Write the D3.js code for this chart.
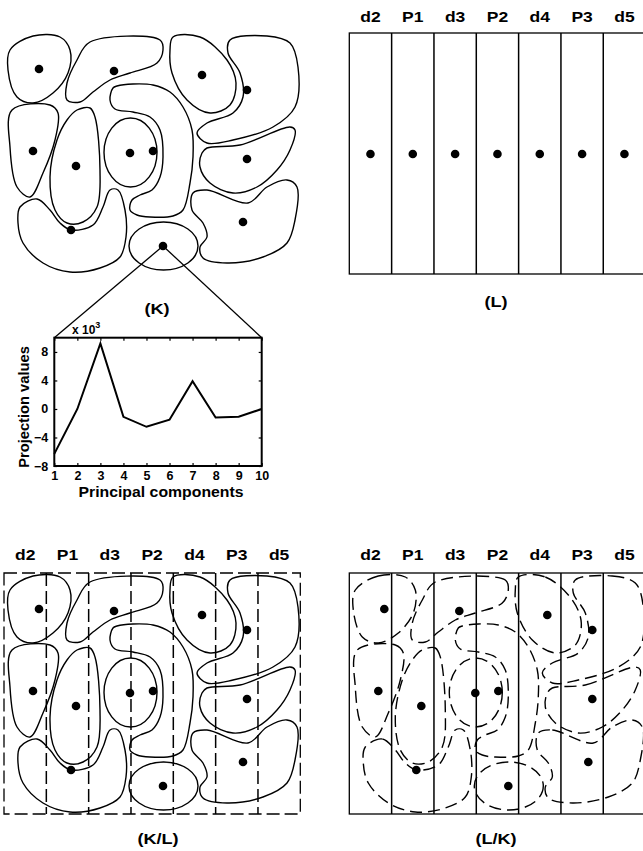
<!DOCTYPE html>
<html>
<head>
<meta charset="utf-8">
<script src="https://cdn.jsdelivr.net/npm/d3@7"></script>
<style>
  body { margin: 0; background: #fff; }
  text { font-family: "Liberation Sans", Arial, sans-serif; font-weight: bold; fill: #000; }
</style>
</head>
<body>
<script>
// column labels of the lattice
const columns = ["d2", "P1", "d3", "P2", "d4", "P3", "d5"];

// projection of one region onto the principal components
const components = [1, 2, 3, 4, 5, 6, 7, 8, 9, 10];
const projection = [-6.3, 0, 9.2, -1.1, -2.5, -1.5, 3.9, -1.2, -1.1, 0];
const yTicks = [-8, -4, 0, 4, 8];

// region outlines, in map units (map is 296 x 241)
const outlineA = [[6,17],[29,3],[56,4],[66,17],[64,40],[49,60],[29,70],[13,64],[4,37]];
const outlineB = [[86,9],[156,7],[159,17],[153,30],[126,40],[106,47],[89,59],[76,69],[63,67],[63,50],[73,27]];
const outlineC = [[169,4],[196,4],[223,27],[232,50],[226,72],[206,80],[183,67],[168,40],[166,17]];
const outlineD = [[226,7],[263,3],[286,10],[294,34],[291,74],[269,94],[229,107],[203,110],[193,100],[203,90],[229,80],[239,64],[236,40],[224,20]];
const outlineE = [[8,77],[46,72],[54,80],[51,107],[39,140],[26,164],[13,154],[6,114]];
const outlineF = [[73,77],[86,75],[91,84],[96,137],[93,174],[79,189],[63,190],[51,177],[46,144],[53,107],[63,87]];
const outlineH = [[109,55],[106,67],[111,76],[129,79],[146,84],[156,97],[159,124],[156,144],[148,157],[136,162],[128,167],[126,177],[133,182],[146,184],[169,183],[179,177],[186,150],[189,124],[188,97],[179,74],[166,59],[149,52],[129,51],[113,53]];
const outlineI = [[203,115],[236,112],[286,94],[291,97],[286,117],[273,137],[253,154],[229,160],[206,150],[196,134],[198,120]];
const outlineJ = [[189,160],[203,157],[244,170],[263,154],[283,147],[293,154],[291,187],[283,210],[259,224],[223,230],[199,225],[196,214],[203,204],[199,190],[188,177]];
const outlineK = [[16,174],[33,166],[46,177],[56,190],[67,197],[89,192],[99,174],[106,157],[114,157],[121,177],[122,204],[116,224],[96,235],[66,239],[39,230],[19,210],[14,190]];
const outlines = [outlineA, outlineB, outlineC, outlineD, outlineE, outlineF, outlineH, outlineI, outlineJ, outlineK];

// elliptical regions: centre x, centre y, radius x, radius y
const ellipses = [[126.5, 119.5, 26.5, 34.5], [159.5, 213, 34.5, 24]];

// region centres
const centres = [[35,36],[110,38],[198,42],[243,57],[29,118],[72,133],[126,120],[149,118],[243,126],[239,189],[67,197],[159,213]];

// lattice centres sit on one row
const latticeRow = 121;

const W = 643, H = 851;
const svg = d3.select("body").append("svg")
  .attr("width", W)
  .attr("height", H);

svg.append("rect").attr("width", W).attr("height", H).attr("fill", "#fff");

const mapW = 296, mapH = 241;

function mapScales(x0, y0) {
  return {
    x: d3.scaleLinear().domain([0, mapW]).range([x0, x0 + mapW]),
    y: d3.scaleLinear().domain([0, mapH]).range([y0, y0 + mapH])
  };
}

// bold text, a little wider than the font draws it
function label(g, x, y, str, size, sx, rotate) {
  return g.append("text")
    .attr("transform", `translate(${ x },${ y })${ rotate ? " rotate(-90)" : "" } scale(${ sx },1)`)
    .attr("text-anchor", "middle")
    .style("font-size", size + "px")
    .text(str);
}

function drawRegions(g, s, dash) {
  const line = d3.line()
    .x(d => s.x(d[0]))
    .y(d => s.y(d[1]))
    .curve(d3.curveCatmullRomClosed.alpha(0.5));

  g.selectAll("path.region")
    .data(outlines)
    .enter().append("path")
    .attr("class", "region")
    .attr("d", line)
    .attr("fill", "none")
    .attr("stroke", "#000")
    .attr("stroke-width", 1.4)
    .attr("stroke-dasharray", dash);

  g.selectAll("ellipse.region")
    .data(ellipses)
    .enter().append("ellipse")
    .attr("class", "region")
    .attr("cx", d => s.x(d[0]))
    .attr("cy", d => s.y(d[1]))
    .attr("rx", d => s.x(d[2]) - s.x(0))
    .attr("ry", d => s.y(d[3]) - s.y(0))
    .attr("fill", "none")
    .attr("stroke", "#000")
    .attr("stroke-width", 1.4)
    .attr("stroke-dasharray", dash);

  g.selectAll("circle.centre")
    .data(centres)
    .enter().append("circle")
    .attr("class", "centre")
    .attr("cx", d => s.x(d[0]))
    .attr("cy", d => s.y(d[1]))
    .attr("r", 4.3);
}

function drawLattice(g, x0, y0, labelY, dash) {
  const band = d3.scaleBand().domain(columns).range([x0, x0 + mapW + 0.3]);

  g.append("rect")
    .attr("x", x0)
    .attr("y", y0)
    .attr("width", band.step() * columns.length)
    .attr("height", mapH)
    .attr("fill", "none")
    .attr("stroke", "#000")
    .attr("stroke-width", 1.3)
    .attr("stroke-dasharray", dash);

  g.selectAll("line.col")
    .data(columns.slice(1))
    .enter().append("line")
    .attr("class", "col")
    .attr("x1", d => band(d))
    .attr("x2", d => band(d))
    .attr("y1", y0)
    .attr("y2", y0 + mapH)
    .attr("stroke", "#000")
    .attr("stroke-width", 1.5)
    .attr("stroke-dasharray", dash);

  columns.forEach(c => label(g, band(c) + band.bandwidth() / 2, labelY, c, 14, 1.25));

  return band;
}

// (K) regions
const kScale = mapScales(4, 33);
drawRegions(svg.append("g"), kScale, null);

// (L) lattice
const lBand = drawLattice(svg.append("g"), 349.3, 33, 22, null);
const lY = mapScales(349.3, 33).y;
svg.selectAll("circle.lattice")
  .data(columns)
  .enter().append("circle")
  .attr("class", "lattice")
  .attr("cx", d => lBand(d) + lBand.bandwidth() / 2)
  .attr("cy", lY(latticeRow))
  .attr("r", 4.3);

// (K/L): lattice dashed, regions solid
drawLattice(svg.append("g"), 4, 573, 560, "13,5");
drawRegions(svg.append("g"), mapScales(4, 573), null);

// (L/K): lattice solid, regions dashed
drawLattice(svg.append("g"), 349.3, 573, 560, null);
drawRegions(svg.append("g"), mapScales(349.3, 573), "12,6");

label(svg, 157, 314, "(K)", 14.5, 1.25);
label(svg, 496, 307, "(L)", 14.5, 1.25);
label(svg, 158, 844, "(K/L)", 14.5, 1.25);
label(svg, 496, 844, "(L/K)", 14.5, 1.25);

// inset plot of projection values for the bottom ellipse region
const plot = { left: 54.3, right: 261.7, top: 337.7, bottom: 466 };
const x = d3.scaleLinear().domain([1, 10]).range([plot.left, plot.right]);
const y = d3.scaleLinear().domain([-8, 10]).range([plot.bottom, plot.top]);

const zoomFrom = centres[centres.length - 1];
[[plot.left, plot.top], [plot.right, plot.top]].forEach(p => {
  svg.append("line")
    .attr("x1", kScale.x(zoomFrom[0]))
    .attr("y1", kScale.y(zoomFrom[1]))
    .attr("x2", p[0])
    .attr("y2", p[1])
    .attr("stroke", "#000")
    .attr("stroke-width", 1.3);
});

const inset = svg.append("g");

const xAxis = inset.append("g")
  .attr("transform", `translate(0,${ plot.bottom })`)
  .call(d3.axisBottom(x).tickValues(components).tickSize(-3).tickPadding(5).tickFormat(d3.format("d")));
const xTop = inset.append("g")
  .attr("transform", `translate(0,${ plot.top })`)
  .call(d3.axisTop(x).tickValues(components).tickSize(-3).tickFormat(""));
const yAxis = inset.append("g")
  .attr("transform", `translate(${ plot.left },0)`)
  .call(d3.axisLeft(y).tickValues(yTicks).tickSize(-3).tickPadding(6));
const yRight = inset.append("g")
  .attr("transform", `translate(${ plot.right },0)`)
  .call(d3.axisRight(y).tickValues(yTicks).tickSize(-3).tickFormat(""));

[xAxis, xTop, yAxis, yRight].forEach(a => {
  a.select(".domain").remove();
  a.selectAll("line").attr("stroke-width", 1.2);
  a.selectAll("text")
    .style("font-family", "'Liberation Sans', Arial, sans-serif")
    .style("font-weight", "bold")
    .style("font-size", "12.5px");
});

inset.append("path")
  .datum(projection)
  .attr("fill", "none")
  .attr("stroke", "#000")
  .attr("stroke-width", 2)
  .attr("stroke-linejoin", "miter")
  .attr("d", d3.line().x((d, i) => x(components[i])).y(d => y(d)));

inset.append("rect")
  .attr("x", plot.left)
  .attr("y", plot.top)
  .attr("width", plot.right - plot.left)
  .attr("height", plot.bottom - plot.top)
  .attr("fill", "none")
  .attr("stroke", "#000")
  .attr("stroke-width", 2);

const exp = inset.append("text")
  .attr("x", 72)
  .attr("y", 334)
  .style("font-size", "12px");
exp.append("tspan").text("x 10");
exp.append("tspan").attr("dy", -6).style("font-size", "9px").text("3");

label(inset, 24, 407, "Projection values", 14, 1.05, true).attr("dy", "0.35em");
label(inset, 161, 497, "Principal components", 14, 1.13);
</script>
</body>
</html>
